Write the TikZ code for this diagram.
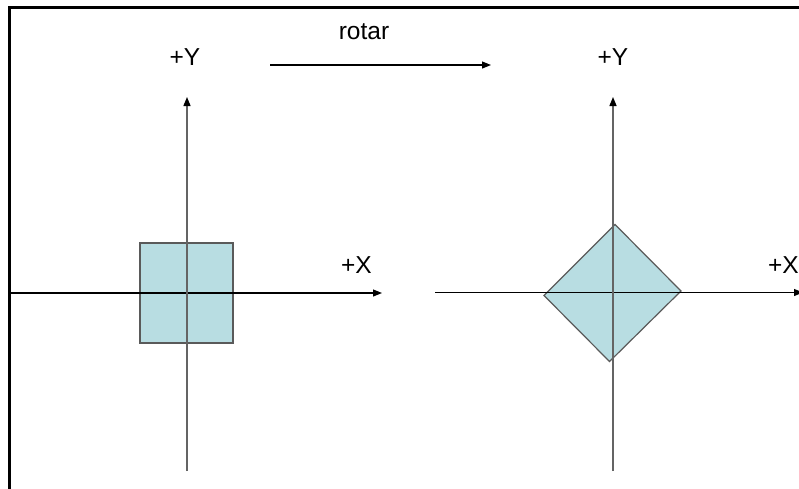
\documentclass[tikz,border=0pt]{standalone}
\usepackage{fontspec}
\setmainfont{Liberation Sans}
\usetikzlibrary{arrows.meta}
\definecolor{shapefill}{RGB}{184,221,226}
\definecolor{shapeedge}{RGB}{90,90,90}
\definecolor{vaxis}{RGB}{100,100,100}
\tikzset{
  lbl/.style={font=\fontsize{24.5}{28}\selectfont, inner sep=0pt, anchor=base},
  haxis/.style={draw=black, line width=1.1pt, -{Triangle[length=9pt,width=7pt]}},
  vaxisline/.style={draw=vaxis, line width=1.4pt, -{Triangle[length=9pt,width=7pt,color=black]}},
  shp/.style={fill=shapefill, draw=shapeedge, line width=1.2pt},
}
\begin{document}
\begin{tikzpicture}[x=1pt,y=-1pt]
\useasboundingbox (0,0) rectangle (799,488);
\begin{scope}
  \clip (0,0) rectangle (799,488);
  \draw[line width=3pt] (9,7.7) rectangle (860,530);
\end{scope}
% coordinates
\coordinate (lxs) at (9,293);
\coordinate (lxe) at (382,293);
\coordinate (lys) at (187,471);
\coordinate (lye) at (187,97);
\coordinate (rxs) at (435,292.5);
\coordinate (rxe) at (803,292.5);
\coordinate (rys) at (613,471);
\coordinate (rye) at (613,97);
\coordinate (ra) at (270,65);
\coordinate (rb) at (491,65);
% square
\node[shp, minimum width=93pt, minimum height=100pt, inner sep=0pt] (sq) at (186.5,293) {};
% diamond
\coordinate (dl) at (544,295.5);
\coordinate (dt) at (615,224.5);
\coordinate (dr) at (681,291);
\coordinate (db) at (609.5,361.5);
\path[shp] (dl) -- (dt) -- (dr) -- (db) -- cycle;
% axes
\draw[haxis] (lxs) -- (lxe);
\draw[vaxisline] (lys) -- (lye);
\draw[haxis] (rxs) -- (rxe);
\draw[vaxisline] (rys) -- (rye);
\draw[haxis] (ra) -- (rb);
% labels
\node[lbl] (ly) at (185,65) {+Y};
\node[lbl] (ry) at (613,65) {+Y};
\node[lbl] (lx) at (356.5,273) {+X};
\node[lbl] (rx) at (783.5,273) {+X};
\node[lbl] (rot) at (364,39) {rotar};
\end{tikzpicture}
\end{document}
